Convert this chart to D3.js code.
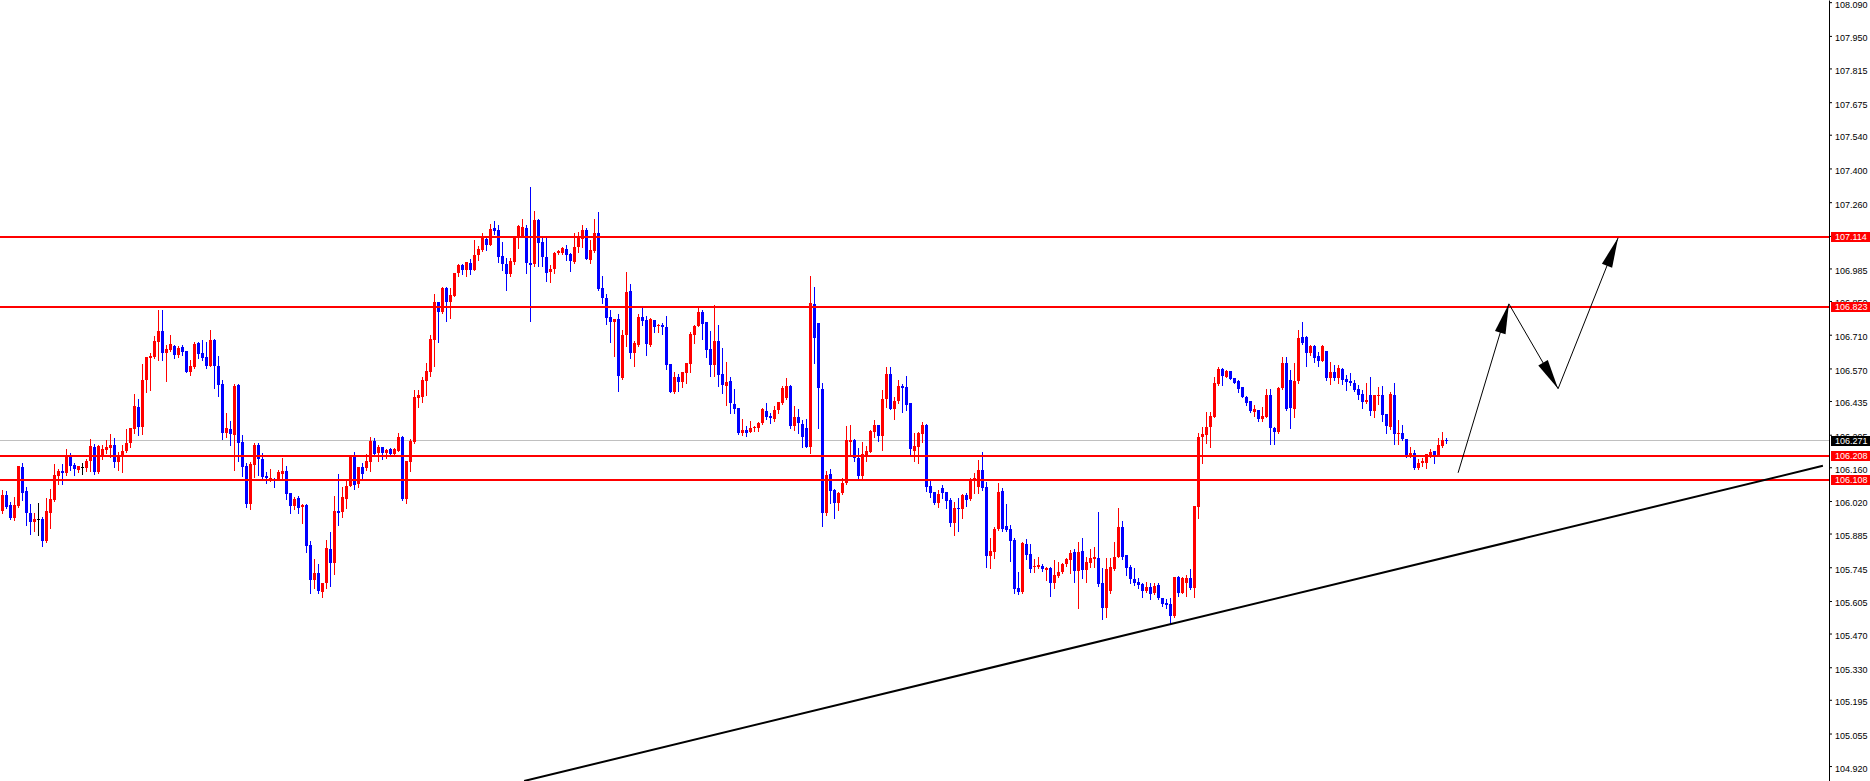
<!DOCTYPE html>
<html><head><meta charset="utf-8">
<script src="https://cdn.jsdelivr.net/npm/d3@7"></script>
<style>
html,body{margin:0;padding:0;background:#fff;overflow:hidden}
svg{display:block}
</style></head><body>
<svg id="chart" width="1870" height="781"></svg>
<script>
const opens = [
105.980,106.046,106.004,105.950,106.000,106.162,106.063,105.972,105.934,105.946,
105.946,105.855,105.972,106.025,106.125,106.146,106.137,106.208,106.170,106.150,
106.162,106.158,106.187,106.245,106.141,106.208,106.233,106.241,106.253,106.183,
106.204,106.229,106.262,106.320,106.411,106.328,106.523,106.614,106.619,106.681,
106.727,106.635,106.648,106.664,106.627,106.660,106.644,106.556,106.577,106.677,
106.635,106.619,106.581,106.689,106.581,106.507,106.303,106.320,106.295,106.502,
106.266,106.166,106.009,106.170,106.253,106.195,106.125,106.108,106.112,106.108,
106.133,106.146,106.054,106.000,106.034,105.996,106.004,105.838,105.693,105.722,
105.643,105.681,105.822,105.764,105.980,105.976,106.029,106.083,106.204,106.092,
106.162,106.158,106.183,106.270,106.220,106.245,106.220,106.237,106.216,106.229,
106.287,106.029,106.183,106.266,106.448,106.452,106.519,106.556,106.689,106.847,
106.805,106.905,106.847,106.872,106.967,107.000,106.980,107.009,106.980,107.042,
107.063,107.108,107.083,107.154,107.146,107.038,107.005,106.963,107.013,107.112,
107.121,107.154,107.009,107.005,107.187,107.096,107.034,106.971,106.984,107.050,
107.050,107.067,107.046,107.013,107.075,107.108,107.146,107.021,107.058,107.133,
106.905,106.863,106.785,106.764,106.776,106.531,106.710,106.893,106.635,106.668,
106.785,106.772,106.668,106.772,106.747,106.751,106.743,106.590,106.473,106.536,
106.515,106.552,106.590,106.710,106.747,106.805,106.764,106.652,106.585,106.685,
106.548,106.498,106.519,106.424,106.407,106.303,106.316,106.307,106.324,106.324,
106.345,106.395,106.374,106.361,106.399,106.428,106.448,106.498,106.332,106.370,
106.341,106.324,106.245,106.839,106.760,106.486,105.972,106.133,106.067,106.013,
106.054,106.096,106.266,106.274,106.199,106.125,106.212,106.224,106.307,106.336,
106.291,106.444,106.548,106.403,106.436,106.498,106.494,106.428,106.229,106.245,
106.299,106.336,106.083,106.058,106.013,106.075,106.058,106.025,105.930,105.992,
105.988,106.046,106.029,106.104,106.079,106.150,106.079,105.793,105.810,105.905,
106.063,105.917,105.905,105.859,105.660,105.643,105.843,105.801,105.747,105.747,
105.751,105.735,105.743,105.681,105.710,105.726,105.759,105.776,105.810,105.731,
105.814,105.735,105.764,105.780,105.785,105.681,105.577,105.648,105.739,105.789,
105.913,105.797,105.747,105.697,105.685,105.677,105.648,105.664,105.639,105.672,
105.619,105.598,105.594,105.544,105.706,105.639,105.681,105.702,105.660,105.996,
106.287,106.295,106.328,106.370,106.507,106.569,106.536,106.561,106.531,106.519,
106.494,106.453,106.436,106.390,106.399,106.361,106.370,106.461,106.324,106.307,
106.490,106.594,106.523,106.403,106.519,106.701,106.701,106.635,106.664,106.623,
106.602,106.644,106.531,106.556,106.531,106.569,106.527,106.519,106.511,106.486,
106.465,106.432,106.461,106.395,106.457,106.461,106.382,106.328,106.461,106.299,
106.303,106.278,106.208,106.220,106.158,106.179,106.179,106.208,106.229,106.208,
106.249,106.274];
const highs = [
106.067,106.063,106.017,106.038,106.166,106.179,106.079,106.009,105.972,106.013,
105.955,106.034,106.071,106.175,106.154,106.175,106.237,106.220,106.179,106.166,
106.179,106.195,106.278,106.258,106.253,106.253,106.274,106.299,106.283,106.224,
106.253,106.320,106.324,106.465,106.444,106.590,106.619,106.635,106.706,106.814,
106.814,106.668,106.710,106.668,106.664,106.668,106.644,106.606,106.681,106.681,
106.689,106.681,106.731,106.693,106.623,106.523,106.386,106.353,106.507,106.507,
106.295,106.179,106.183,106.262,106.262,106.220,106.141,106.154,106.117,106.150,
106.199,106.166,106.054,106.038,106.042,106.009,106.009,105.855,105.780,105.759,
105.681,105.859,105.892,106.042,106.133,106.079,106.108,106.208,106.224,106.162,
106.179,106.216,106.287,106.283,106.253,106.245,106.237,106.241,106.241,106.303,
106.291,106.187,106.278,106.482,106.482,106.536,106.594,106.710,106.880,106.847,
106.909,106.909,106.905,106.967,107.004,107.004,107.013,107.025,107.104,107.079,
107.133,107.121,107.171,107.183,107.166,107.096,107.029,107.029,107.117,107.166,
107.191,107.166,107.324,107.224,107.191,107.117,107.121,107.000,107.054,107.063,
107.075,107.083,107.050,107.133,107.137,107.166,107.154,107.104,107.191,107.220,
106.955,106.880,106.814,106.776,106.797,106.731,106.971,106.921,106.685,106.797,
106.822,106.789,106.781,106.772,106.756,106.760,106.789,106.590,106.556,106.548,
106.556,106.594,106.722,106.751,106.822,106.814,106.764,106.727,106.834,106.751,
106.656,106.598,106.536,106.486,106.407,106.361,106.332,106.353,106.332,106.349,
106.407,106.428,106.386,106.415,106.432,106.498,106.531,106.502,106.415,106.403,
106.357,106.361,106.955,106.909,106.760,106.511,106.146,106.154,106.071,106.058,
106.117,106.332,106.336,106.278,106.241,106.266,106.249,106.316,106.357,106.336,
106.482,106.577,106.577,106.453,106.523,106.507,106.540,106.428,106.303,106.307,
106.349,106.341,106.108,106.058,106.067,106.087,106.058,106.034,106.017,106.034,
106.050,106.054,106.117,106.137,106.191,106.224,106.100,105.868,105.913,106.096,
106.075,106.009,105.921,105.868,105.726,105.851,105.863,105.843,105.780,105.789,
105.759,105.747,105.747,105.776,105.768,105.764,105.785,105.818,105.822,105.851,
105.868,105.789,105.822,105.830,105.976,105.743,105.785,105.785,105.851,105.992,
105.938,105.797,105.755,105.743,105.702,105.681,105.685,105.681,105.681,105.681,
105.619,105.614,105.619,105.706,105.710,105.706,105.714,105.739,106.000,106.303,
106.328,106.390,106.390,106.536,106.577,106.573,106.565,106.561,106.531,106.523,
106.494,106.457,106.436,106.419,106.399,106.411,106.486,106.486,106.328,106.494,
106.619,106.619,106.565,106.594,106.731,106.764,106.706,106.668,106.668,106.640,
106.668,106.644,106.598,106.585,106.585,106.573,106.544,106.552,106.523,106.502,
106.482,106.511,106.536,106.461,106.494,106.498,106.382,106.473,106.511,106.357,
106.336,106.278,106.245,106.233,106.195,106.199,106.216,106.237,106.229,106.283,
106.307,106.283];
const lows = [
105.972,105.992,105.946,105.942,105.996,106.025,105.921,105.884,105.897,105.880,
105.834,105.851,105.909,106.021,106.092,106.092,106.129,106.150,106.129,106.141,
106.133,106.146,106.146,106.133,106.137,106.195,106.220,106.204,106.162,106.150,
106.141,106.224,106.245,106.303,106.295,106.299,106.473,106.482,106.614,106.606,
106.606,106.519,106.644,106.614,106.619,106.627,106.556,106.544,106.573,106.614,
106.606,106.573,106.581,106.490,106.457,106.278,106.287,106.253,106.150,106.187,
106.125,105.996,105.988,106.121,106.129,106.117,106.096,106.104,106.079,106.108,
106.117,106.029,105.972,105.988,105.972,105.930,105.810,105.639,105.660,105.639,
105.623,105.660,105.668,105.718,105.921,105.955,105.992,106.083,106.071,106.079,
106.112,106.150,106.146,106.208,106.187,106.195,106.199,106.212,106.208,106.229,
106.025,106.013,106.146,106.262,106.411,106.432,106.461,106.540,106.581,106.681,
106.801,106.768,106.781,106.872,106.955,106.963,106.955,106.963,106.980,107.021,
107.058,107.063,107.083,107.129,107.013,106.980,106.897,106.955,107.005,107.071,
107.121,106.967,106.768,106.996,106.996,106.996,106.934,106.930,106.967,107.046,
107.046,107.021,106.976,107.009,107.054,107.075,107.025,107.009,107.054,106.897,
106.843,106.756,106.681,106.623,106.478,106.527,106.664,106.614,106.581,106.664,
106.751,106.627,106.664,106.722,106.722,106.714,106.569,106.473,106.469,106.478,
106.494,106.511,106.556,106.677,106.747,106.693,106.619,106.540,106.540,106.498,
106.469,106.419,106.386,106.386,106.299,106.295,106.291,106.307,106.312,106.312,
106.341,106.361,106.345,106.353,106.386,106.424,106.444,106.324,106.316,106.303,
106.245,106.245,106.220,106.594,106.324,105.917,105.963,106.013,105.951,105.984,
106.050,106.092,106.216,106.187,106.117,106.117,106.187,106.224,106.287,106.270,
106.233,106.411,106.403,106.361,106.428,106.390,106.399,106.212,106.187,106.179,
106.266,106.063,106.038,106.009,105.996,106.034,105.992,105.917,105.880,105.897,
105.951,106.000,106.025,106.054,106.054,106.067,105.747,105.743,105.785,105.901,
105.897,105.897,105.772,105.639,105.635,105.639,105.780,105.726,105.726,105.743,
105.730,105.693,105.627,105.660,105.706,105.722,105.751,105.722,105.685,105.577,
105.702,105.685,105.747,105.747,105.668,105.531,105.540,105.639,105.735,105.789,
105.780,105.714,105.681,105.672,105.660,105.623,105.643,105.614,105.635,105.614,
105.585,105.577,105.515,105.540,105.627,105.639,105.627,105.656,105.623,105.951,
106.179,106.262,106.245,106.370,106.502,106.502,106.536,106.527,106.511,106.473,
106.453,106.419,106.390,106.374,106.353,106.353,106.370,106.258,106.258,106.303,
106.486,106.399,106.324,106.370,106.511,106.672,106.581,106.627,106.598,106.581,
106.602,106.523,106.507,106.523,106.511,106.507,106.482,106.502,106.478,106.444,
106.407,106.428,106.378,106.370,106.424,106.353,106.303,106.320,106.258,106.258,
106.274,106.204,106.204,106.154,106.154,106.166,106.158,106.204,106.179,106.208,
106.245,106.262];
const closes = [
106.046,105.996,105.950,106.004,106.166,106.054,105.972,105.934,105.946,105.946,
105.855,105.980,106.029,106.129,106.146,106.137,106.208,106.166,106.154,106.166,
106.162,106.187,106.249,106.141,106.249,106.237,106.245,106.253,106.183,106.208,
106.229,106.262,106.324,106.415,106.328,106.523,106.619,106.623,106.685,106.727,
106.635,106.652,106.673,106.627,106.656,106.640,106.556,106.581,106.673,106.631,
106.614,106.581,106.689,106.581,106.502,106.303,106.324,106.299,106.498,106.262,
106.162,106.009,106.175,106.253,106.195,106.121,106.117,106.117,106.108,106.141,
106.146,106.050,106.000,106.029,105.992,106.004,105.834,105.693,105.722,105.648,
105.681,105.826,105.764,105.980,105.972,106.038,106.083,106.208,106.087,106.162,
106.133,106.187,106.270,106.216,106.245,106.220,106.233,106.216,106.237,106.287,
106.029,106.187,106.270,106.452,106.461,106.523,106.561,106.693,106.847,106.805,
106.905,106.847,106.876,106.967,107.000,106.980,107.013,106.980,107.042,107.067,
107.112,107.083,107.150,107.141,107.034,107.005,106.963,107.017,107.112,107.162,
107.158,107.009,107.000,107.187,107.092,107.034,106.967,106.984,107.050,107.058,
107.071,107.042,107.017,107.075,107.112,107.146,107.025,107.063,107.133,106.901,
106.863,106.781,106.764,106.776,106.540,106.710,106.889,106.635,106.677,106.785,
106.768,106.673,106.776,106.743,106.751,106.743,106.585,106.473,106.536,106.515,
106.556,106.594,106.714,106.747,106.805,106.756,106.648,106.585,106.685,106.544,
106.502,106.515,106.428,106.403,106.303,106.316,106.303,106.324,106.328,106.345,
106.403,106.370,106.366,106.399,106.432,106.490,106.498,106.332,106.370,106.345,
106.287,106.245,106.843,106.697,106.490,105.972,106.129,106.063,106.013,106.054,
106.096,106.274,106.274,106.199,106.125,106.216,106.229,106.312,106.336,106.291,
106.444,106.548,106.403,106.436,106.498,106.490,106.419,106.237,106.249,106.303,
106.336,106.079,106.054,106.013,106.050,106.054,106.021,105.930,105.992,105.988,
106.046,106.025,106.104,106.117,106.150,106.075,105.793,105.814,105.905,106.058,
105.905,105.901,105.855,105.656,105.643,105.847,105.797,105.739,105.751,105.755,
105.739,105.743,105.681,105.714,105.726,105.759,105.780,105.805,105.731,105.810,
105.735,105.768,105.785,105.789,105.677,105.577,105.739,105.747,105.789,105.913,
105.789,105.743,105.697,105.681,105.672,105.648,105.664,105.635,105.668,105.619,
105.594,105.589,105.544,105.706,105.639,105.702,105.702,105.660,106.000,106.287,
106.299,106.328,106.374,106.511,106.569,106.540,106.561,106.527,106.511,106.486,
106.453,106.428,106.395,106.403,106.361,106.374,106.461,106.324,106.307,106.490,
106.594,106.403,106.407,106.519,106.697,106.676,106.635,106.664,106.614,106.602,
106.664,106.531,106.556,106.531,106.573,106.523,106.515,106.511,106.482,106.461,
106.432,106.440,106.395,106.461,106.461,106.378,106.332,106.465,106.299,106.303,
106.278,106.208,106.220,106.158,106.179,106.187,106.216,106.224,106.208,106.253,
106.274,106.271];

const tickValues = [108.090,107.950,107.815,107.675,107.540,107.400,107.260,107.120,106.985,106.850,106.710,106.570,106.435,106.295,106.160,106.020,105.885,105.745,105.605,105.470,105.330,105.195,105.055,104.920];
const levels = [107.114, 106.823, 106.208, 106.108];
const lastPrice = 106.271;
const trendIdx = [130.4, 455.1];
const trendPrice = [104.858, 106.166];
const arrowIdx = [363.9, 376.6, 388.9, 403.9];
const arrowPrice = [106.137, 106.838, 106.486, 107.112];

const W = 1870, H = 781, axisX = 1829;
const svg = d3.select('#chart');
const x = d3.scaleLinear().domain([0, 1]).range([2.5, 6.5]);
const y = d3.scaleLinear().domain([108.099, 104.858]).range([0, H]);

const candles = opens.map((o, i) => ({i, o, h: highs[i], l: lows[i], c: closes[i]}));
const colorOf = d => d.c > d.o ? '#ff0000' : (d.c < d.o ? '#0000ff' : '#000000');

// bid line (gray)
svg.append('line')
  .attr('x1', 0).attr('x2', axisX)
  .attr('y1', Math.floor(y(lastPrice)) + 0.5).attr('y2', Math.floor(y(lastPrice)) + 0.5)
  .attr('stroke', '#c0c0c0').attr('stroke-width', 1);

// candles
const g = svg.append('g');
g.selectAll('line.wick').data(candles).join('line')
  .attr('class', 'wick')
  .attr('x1', d => x(d.i)).attr('x2', d => x(d.i))
  .attr('y1', d => Math.round(y(Math.max(d.h, d.o, d.c))))
  .attr('y2', d => Math.round(y(Math.min(d.l, d.o, d.c))) + 1)
  .attr('stroke', colorOf).attr('stroke-width', 1)
  .attr('shape-rendering', 'crispEdges');
g.selectAll('rect.body').data(candles).join('rect')
  .attr('class', 'body')
  .attr('x', d => x(d.i) - 1.5)
  .attr('width', 3)
  .attr('y', d => Math.round(y(Math.max(d.o, d.c))))
  .attr('height', d => Math.max(1, Math.round(y(Math.min(d.o, d.c))) - Math.round(y(Math.max(d.o, d.c)))))
  .attr('fill', colorOf)
  .attr('shape-rendering', 'crispEdges');

// horizontal levels
svg.selectAll('line.level').data(levels).join('line')
  .attr('class', 'level')
  .attr('x1', 0).attr('x2', axisX)
  .attr('y1', d => Math.round(y(d))).attr('y2', d => Math.round(y(d)))
  .attr('stroke', '#ff0000').attr('stroke-width', 2)
  .attr('shape-rendering', 'crispEdges');

// trendline
svg.append('line')
  .attr('x1', x(trendIdx[0])).attr('y1', y(trendPrice[0]))
  .attr('x2', x(trendIdx[1])).attr('y2', y(trendPrice[1]))
  .attr('stroke', '#000').attr('stroke-width', 2);

// arrows
const pts = arrowIdx.map((d, k) => [x(d), y(arrowPrice[k])]);
svg.append('path').attr('d', d3.line()(pts))
  .attr('fill', 'none').attr('stroke', '#000').attr('stroke-width', 1);
for (let k = 1; k < pts.length; k++) {
  const [x0, y0] = pts[k - 1], [x1, y1] = pts[k];
  const len = Math.hypot(x1 - x0, y1 - y0);
  const ux = (x1 - x0) / len, uy = (y1 - y0) / len;
  const bx = x1 - 30 * ux, by = y1 - 30 * uy;
  const px = -uy * 5.5, py = ux * 5.5;
  svg.append('path')
    .attr('d', `M${x1},${y1}L${bx + px},${by + py}L${bx - px},${by - py}Z`)
    .attr('fill', '#000');
}

// price axis
const axis = d3.axisRight(y).tickValues(tickValues).tickSize(3).tickSizeOuter(0).tickPadding(3)
  .tickFormat(d3.format('.3f'));
const ag = svg.append('g').attr('transform', `translate(${axisX},0)`).call(axis);
ag.attr('font-family', '"Liberation Sans", Arial, sans-serif').attr('font-size', 9);
ag.selectAll('text').attr('fill', '#000').attr('dy', '0.55em');
ag.select('.domain').attr('stroke', '#000');
ag.selectAll('.tick line').attr('stroke', '#000');

// price labels (boxes)
const boxes = levels.map(p => ({p, bg: '#ff0000'})).concat([{p: lastPrice, bg: '#000000'}]);
const bg = svg.append('g');
bg.selectAll('rect').data(boxes).join('rect')
  .attr('x', axisX + 2).attr('width', W - axisX - 2)
  .attr('y', d => Math.round(y(d.p)) - 5).attr('height', 10)
  .attr('fill', d => d.bg);
bg.selectAll('text').data(boxes).join('text')
  .attr('x', axisX + 6).attr('y', d => Math.round(y(d.p)))
  .attr('dy', '0.34em')
  .attr('fill', '#fff')
  .attr('font-family', '"Liberation Sans", Arial, sans-serif').attr('font-size', 9)
  .text(d => d3.format('.3f')(d.p));
</script>
</body></html>
